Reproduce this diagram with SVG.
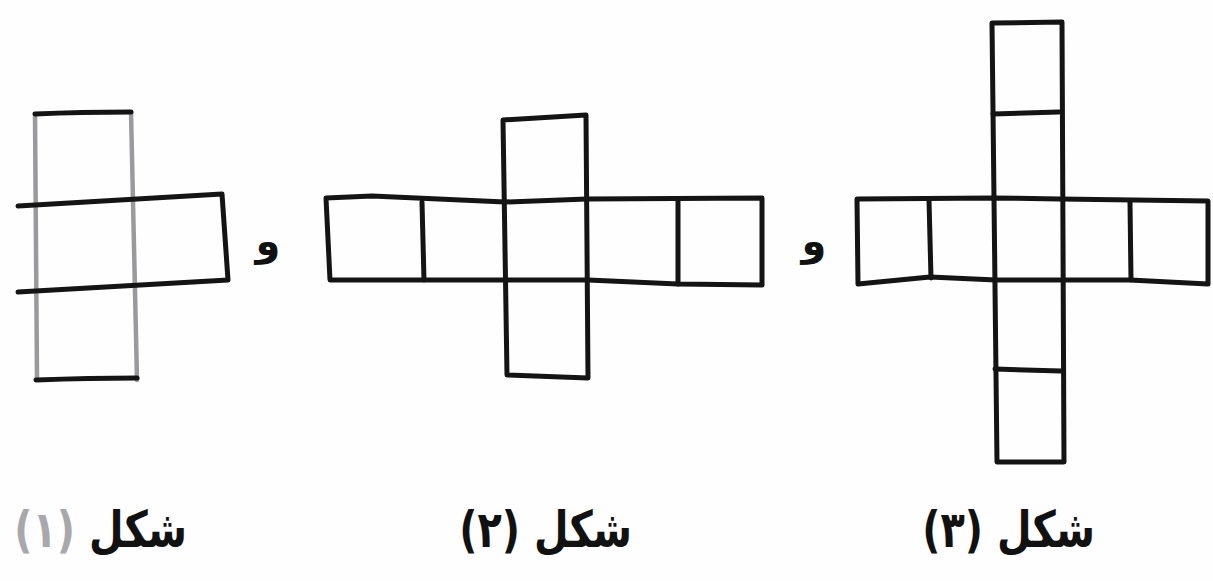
<svg xmlns="http://www.w3.org/2000/svg" width="1213" height="581" viewBox="0 0 1213 581">
<style>
.ln{fill:none;stroke:#141414;stroke-width:5;stroke-linejoin:round;stroke-linecap:round}
.fa{fill:none;stroke:#9a9a9e;stroke-width:4.5;stroke-linecap:round}
.lbl{font-family:"DejaVu Sans",sans-serif;font-weight:bold;font-size:42px;fill:#111;direction:rtl}
.and{font-family:"DejaVu Sans",sans-serif;font-weight:bold;font-size:40px;fill:#111}
</style>
<rect width="1213" height="581" fill="#fefefe"/>
<g id="fig1">
  <path class="fa" d="M35 114 L37 378 M131 112 L137 380"/>
  <path class="ln" d="M35 114 Q80 112 131 112"/>
  <path class="ln" d="M36 380 Q90 378 137 378"/>
  <path class="ln" d="M18 206 Q120 200 222 194 L228 280 Q120 286 18 292"/>
</g>
<g id="fig2">
  <path class="ln" d="M326 198 L372 196 L505 202 L587 199 L762 198 L762 285 L678 284 L588 280 L505 280 L330 280 Z"/>
  <path class="ln" d="M422 202 L424 280 M678 200 L678 284"/>
  <path class="ln" d="M503 120 L586 115 L588 378 L507 375 Z"/>
</g>
<g id="fig3">
  <path class="ln" d="M992 23 L1062 22 L1064 462 L997 462 Z"/>
  <path class="ln" d="M993 114 L1059 112 M995 369 L1061 371"/>
  <path class="ln" d="M857 199 L993 198 L1060 199 L1208 201 L1208 284 L1130 280 L1060 280 L996 280 L930 277 L858 284 Z"/>
  <path class="ln" d="M929 200 L931 278 M1130 202 L1131 280"/>
</g>
<g id="labels">
  <text class="and" x="268" y="255" text-anchor="middle">و</text>
  <text class="and" x="814" y="255" text-anchor="middle">و</text>
  <text class="lbl" transform="translate(187 547) scale(0.95 1.2)" text-anchor="start">شكل <tspan fill="#a8a8ac">(١)</tspan></text>
  <text class="lbl" transform="translate(632 547) scale(0.95 1.2)" text-anchor="start">شكل (٢)</text>
  <text class="lbl" transform="translate(1095 547) scale(0.95 1.2)" text-anchor="start">شكل (٣)</text>
</g>
</svg>
